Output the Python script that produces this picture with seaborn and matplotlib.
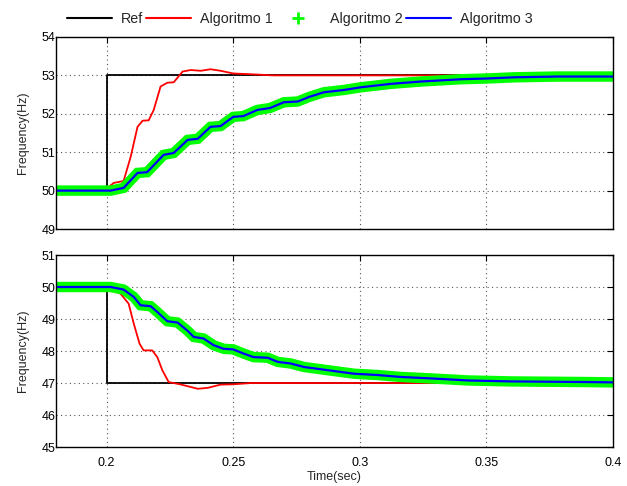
import matplotlib
matplotlib.use("Agg")
import matplotlib.pyplot as plt
from matplotlib.lines import Line2D
import seaborn as sns

# ---------------- data ----------------
# Reference signals
t_ref = [0.18, 0.2, 0.2, 0.4]
ref_top = [50.0, 50.0, 53.0, 53.0]
ref_bot = [50.0, 50.0, 47.0, 47.0]

# Algoritmo 1 (red)
t_a1_top = [0.18, 0.2, 0.2028, 0.2067, 0.2095, 0.2122, 0.2142, 0.2166, 0.2186,
            0.2213, 0.224, 0.2265, 0.23, 0.2332, 0.2372, 0.241, 0.245, 0.25,
            0.257, 0.266, 0.30, 0.35, 0.4]
a1_top = [50.0, 50.05, 50.2, 50.25, 50.88, 51.66, 51.82, 51.83, 52.1,
          52.71, 52.81, 52.82, 53.1, 53.14, 53.12, 53.16, 53.12, 53.05,
          53.03, 53.0, 53.0, 53.0, 53.0]
t_a1_bot = [0.18, 0.2, 0.2055, 0.2087, 0.2107, 0.213, 0.2146, 0.218, 0.22,
            0.222, 0.2245, 0.229, 0.236, 0.240, 0.245, 0.25, 0.257, 0.30,
            0.35, 0.4]
a1_bot = [50.0, 49.98, 49.79, 49.48, 48.86, 48.23, 48.02, 48.02, 47.81,
          47.4, 47.03, 46.96, 46.82, 46.85, 46.95, 46.96, 47.0, 47.0,
          47.0, 47.0]

# Algoritmo 2 (green +) and Algoritmo 3 (blue)
t_a2_top = [0.18, 0.2016, 0.2067, 0.2122, 0.216, 0.2225, 0.2265, 0.232, 0.236,
            0.241, 0.245, 0.25, 0.254, 0.2595, 0.2645, 0.27, 0.2755, 0.28,
            0.2858, 0.2937, 0.3004, 0.3123, 0.3241, 0.34, 0.3506, 0.361,
            0.378, 0.4]
a2_top = [50.0, 50.0, 50.07, 50.46, 50.48, 50.93, 50.98, 51.32, 51.35,
          51.66, 51.68, 51.92, 51.94, 52.1, 52.15, 52.3, 52.32, 52.44,
          52.56, 52.62, 52.69, 52.78, 52.84, 52.9, 52.92, 52.95, 52.97, 52.97]
t_a3_top = list(t_a2_top)
a3_top = list(a2_top)

t_a2_bot = [0.18, 0.2016, 0.2067, 0.2107, 0.2134, 0.2174, 0.22, 0.224, 0.228,
            0.232, 0.2344, 0.2383, 0.2423, 0.2462, 0.25, 0.2541, 0.258,
            0.2636, 0.2676, 0.2727, 0.278, 0.2874, 0.2978, 0.307, 0.316,
            0.329, 0.3427, 0.3597, 0.39, 0.4]
a2_bot = [50.0, 50.0, 49.92, 49.69, 49.43, 49.4, 49.22, 48.93, 48.89,
          48.63, 48.44, 48.39, 48.18, 48.07, 48.05, 47.92, 47.81,
          47.79, 47.66, 47.61, 47.5, 47.4, 47.29, 47.25, 47.19,
          47.14, 47.08, 47.05, 47.03, 47.02]
t_a3_bot = list(t_a2_bot)
a3_bot = list(a2_bot)

x_ticks = [0.2, 0.25, 0.3, 0.35, 0.4]
x_tick_labels = ["0.2", "0.25", "0.3", "0.35", "0.4"]
top_yticks = [49, 50, 51, 52, 53, 54]
bot_yticks = [45, 46, 47, 48, 49, 50, 51]
labels = ["Ref", "Algoritmo 1", "Algoritmo 2", "Algoritmo 3"]

# ---------------- plot ----------------
sns.set_style("white")
plt.rcParams["font.family"] = ["Liberation Sans", "DejaVu Sans"]
plt.rcParams["font.size"] = 9

fig = plt.figure(figsize=(6.27, 4.86), dpi=100)
ax1 = fig.add_axes([0.0893, 0.5288, 0.8884, 0.3951])
ax2 = fig.add_axes([0.0893, 0.0802, 0.8884, 0.3951])


def draw(ax, ref, t1, a1, t2, a2, t3, a3):
    sns.lineplot(x=t_ref, y=ref, ax=ax, color="black", linewidth=1.3,
                 estimator=None, sort=False, legend=False)
    sns.lineplot(x=t1, y=a1, ax=ax, color="#ff0000", linewidth=1.3,
                 estimator=None, sort=False, legend=False)
    sns.lineplot(x=t2, y=a2, ax=ax, color="#00ff00", linewidth=7.5,
                 estimator=None, sort=False, legend=False,
                 solid_joinstyle="miter")
    sns.lineplot(x=t3, y=a3, ax=ax, color="#0000ff", linewidth=1.6,
                 estimator=None, sort=False, legend=False)


draw(ax1, ref_top, t_a1_top, a1_top, t_a2_top, a2_top, t_a3_top, a3_top)
draw(ax2, ref_bot, t_a1_bot, a1_bot, t_a2_bot, a2_bot, t_a3_bot, a3_bot)

for ax, yt in ((ax1, top_yticks), (ax2, bot_yticks)):
    ax.set_xlim(0.18, 0.4)
    ax.set_ylim(yt[0], yt[-1])
    ax.set_xticks(x_ticks)
    ax.set_yticks(yt)
    ax.grid(True, color="#555555", linestyle=(0, (1, 3)), linewidth=0.8)
    ax.tick_params(direction="in", top=True, right=True, length=4,
                   labelsize=9, colors="black", width=0.8)
    ax.tick_params(axis="y", pad=0.5)
    ax.tick_params(axis="x", pad=7)
    for s in ax.spines.values():
        s.set_color("black")
        s.set_linewidth(1.0)
    ax.set_ylabel("Frequency(Hz)", fontsize=9, labelpad=9)
    ax.set_xlabel("")

ax1.set_xticklabels([])
ax2.set_xticklabels(x_tick_labels)
ax2.set_xlabel("Time(sec)", fontsize=9, labelpad=1.5)

handles = [
    Line2D([], [], color="black", linewidth=1.5),
    Line2D([], [], color="#ff0000", linewidth=1.5),
    Line2D([], [], color="#00ff00", linestyle="none", marker="+",
           markersize=9, markeredgewidth=2),
    Line2D([], [], color="#0000ff", linewidth=1.5),
]
fig.legend(handles, labels, loc="upper left", bbox_to_anchor=(0.107, 0.976),
           ncol=4, frameon=False, fontsize=10.3, handlelength=3.15,
           columnspacing=0.2, handletextpad=0.63, borderpad=0,
           borderaxespad=0)

fig.savefig("out.png", dpi=100)
